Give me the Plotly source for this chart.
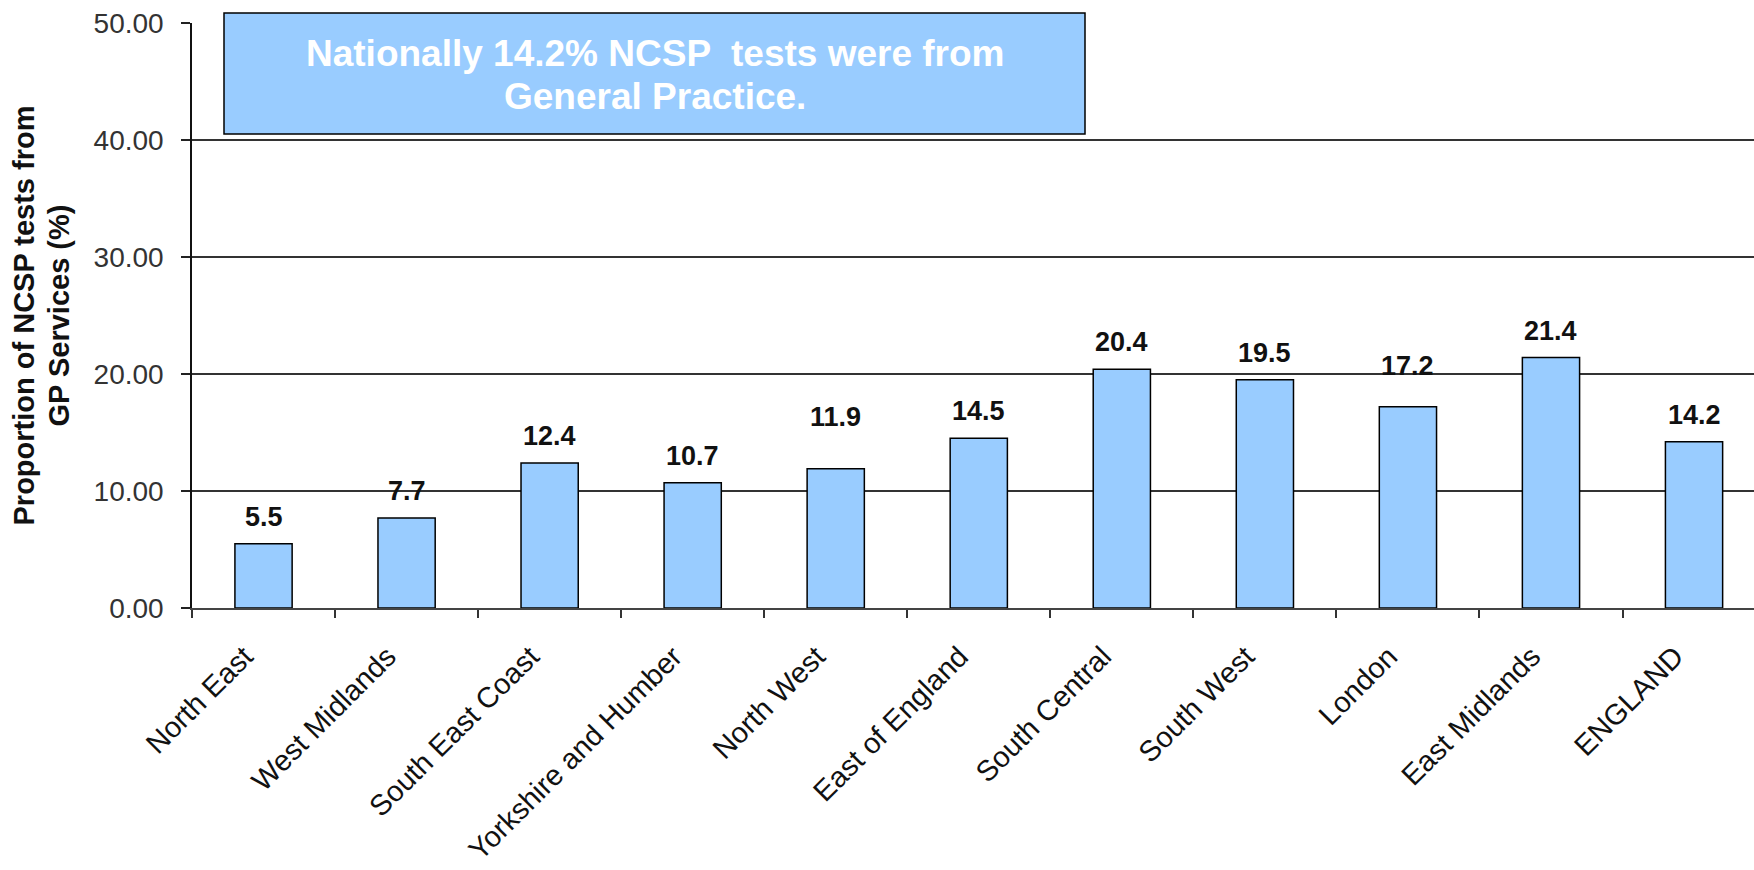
"""
Proportion des tests NCSP provenant des services de médecine générale, par région
"""

import plotly.graph_objects as go

# Données
categories = ["North East", "West Midlands", "South East Coast", "Yorkshire and Humber",
              "North West", "East of England", "South Central", "South West",
              "London", "East Midlands", "ENGLAND"]
values = [5.5, 7.7, 12.4, 10.7, 11.9, 14.5, 20.4, 19.5, 17.2, 21.4, 14.2]
y_ticks = [0, 10, 20, 30, 40, 50]

title_lines = ["Proportion of NCSP tests from", "GP Services (%)"]
note_lines = ["Nationally 14.2% NCSP  tests were from", "General Practice."]

# quelques étiquettes déplacées à la main dans l'original
label_nudge = {"North West": 25, "London": 14}

FONT = "Arial, Liberation Sans, sans-serif"
W, H = 1754, 870
ML, MT, MB = 192, 23, 262


def px_x(px):
    return (px - ML) / (W - ML)


def px_y(py):
    return (H - MB - py) / (H - MB - MT)


fig = go.Figure()

fig.add_trace(go.Bar(
    x=categories,
    y=values,
    marker=dict(color='#99CCFF', line=dict(color='#000000', width=1.5)),
    width=0.4,
    showlegend=False,
    hoverinfo='x+y'
))

# Étiquettes de valeurs
for cat, val in zip(categories, values):
    fig.add_annotation(
        x=cat, y=val, xref='x', yref='y',
        text=f"<b>{val:.1f}</b>",
        showarrow=False,
        yanchor='bottom',
        yshift=10 + label_nudge.get(cat, 0),
        font=dict(family=FONT, size=27, color='#111111')
    )

# Encadré
fig.add_shape(
    type='rect', xref='paper', yref='paper',
    x0=px_x(224), x1=px_x(1085), y0=px_y(134), y1=px_y(13),
    fillcolor='#99CCFF', line=dict(color='#000000', width=1.5),
    layer='above'
)
for line, py in zip(note_lines, [53, 96]):
    fig.add_annotation(
        x=px_x(654.5), y=px_y(py), xref='paper', yref='paper',
        text=f"<b>{line}</b>", showarrow=False,
        xanchor='center', yanchor='middle',
        font=dict(family=FONT, size=37, color='#FFFFFF')
    )

# Titre de l'axe Y
for line, px in zip(title_lines, [23, 58]):
    fig.add_annotation(
        x=px_x(px), y=0.5, xref='paper', yref='paper',
        text=f"<b>{line}</b>", showarrow=False, textangle=-90,
        xanchor='center', yanchor='middle',
        font=dict(family=FONT, size=29, color='#111111')
    )

fig.update_layout(
    width=W, height=H,
    margin=dict(l=ML, r=0, t=MT, b=MB),
    plot_bgcolor='#FFFFFF',
    paper_bgcolor='#FFFFFF',
    bargap=0.6,
    xaxis=dict(
        type='category',
        range=[-0.5, -0.5 + (W - ML) / 143.05],
        tickangle=-45,
        tickson='boundaries',
        ticks='outside', ticklen=8, tickwidth=1.5, tickcolor='#333333',
        ticklabelshift=-19, ticklabelstandoff=18,
        showline=True, linecolor='#444444', linewidth=2,
        showgrid=False,
        tickfont=dict(family=FONT, size=29, color='#111111')
    ),
    yaxis=dict(
        range=[0, 50],
        tickvals=y_ticks,
        tickformat='.2f',
        ticks='outside', ticklen=9, tickwidth=1.5, tickcolor='#222222',
        ticklabelstandoff=12,
        showline=True, linecolor='#111111', linewidth=1.5,
        showgrid=True, gridcolor='#333333', gridwidth=1.5,
        zeroline=False,
        tickfont=dict(family=FONT, size=28, color='#333333')
    )
)

# pas de marge autour de la page
fig.write_html("out.html", config={'displayModeBar': False},
               post_script="document.body.style.margin = '0';")
